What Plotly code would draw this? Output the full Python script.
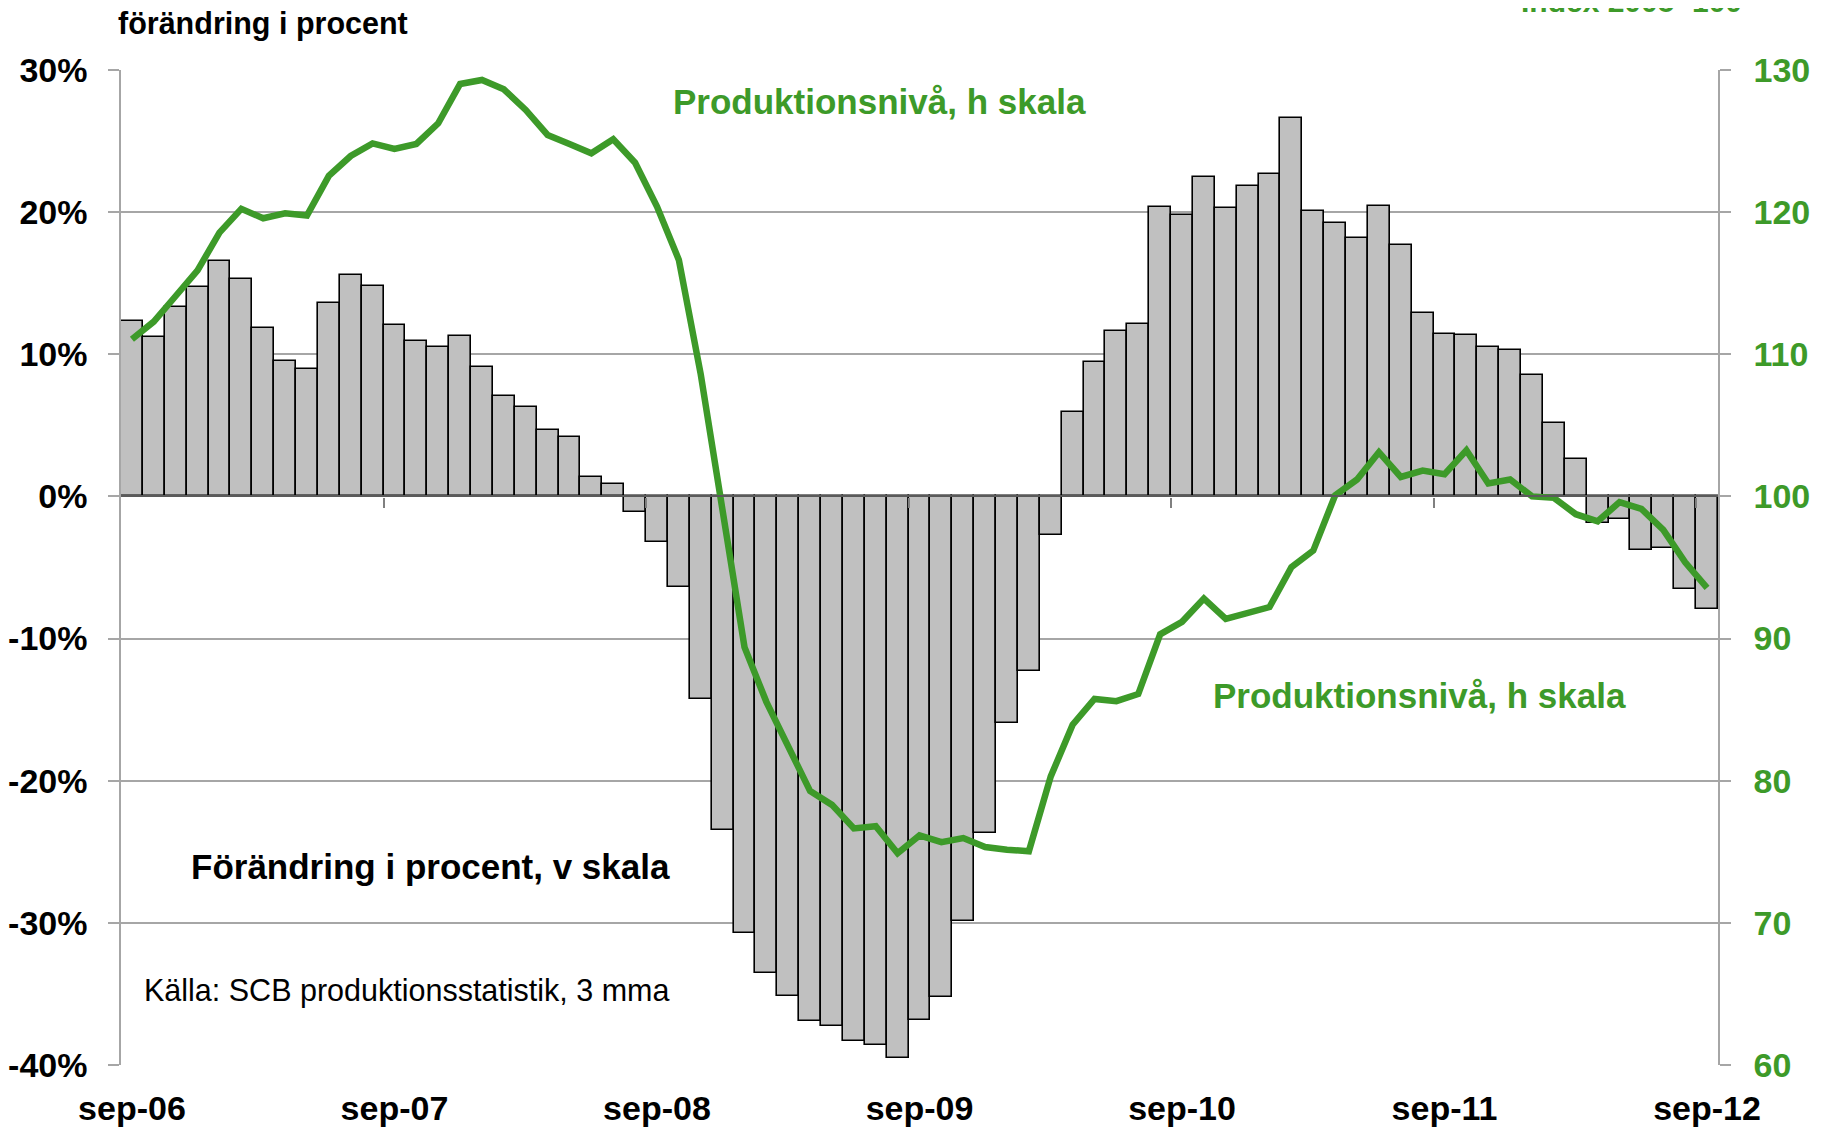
import plotly.graph_objects as go

# Monthly data sep-06 .. sep-12 (73 months)
change_pct = [12.35, 11.25, 13.3, 14.74, 16.55, 15.33, 11.88, 9.54, 8.95, 13.64, 15.56, 14.83,
              12.09, 10.97, 10.5, 11.32, 9.09, 7.08, 6.3, 4.69, 4.15, 1.34, 0.89, -1.1,
              -3.2, -6.36, -14.28, -23.47, -30.74, -33.55, -35.18, -36.88, -37.23, -38.3, -38.6, -39.5,
              -36.8, -35.24, -29.87, -23.7, -15.97, -12.29, -2.72, 5.97, 9.47, 11.67, 12.11, 20.36,
              19.77, 22.49, 20.29, 21.87, 22.65, 26.61, 20.08, 19.27, 18.16, 20.44, 17.72, 12.94,
              11.41, 11.34, 10.51, 10.3, 8.51, 5.2, 2.63, -1.86, -1.57, -3.79, -3.66, -6.48,
              -7.95]
prod_level = [111.06, 112.3, 114.1, 115.9, 118.56, 120.23, 119.57, 119.92, 119.76, 122.55, 123.95, 124.84,
              124.45, 124.8, 126.25, 129.02, 129.3, 128.64, 127.19, 125.43, 124.8, 124.14, 125.13, 123.48,
              120.39, 116.64, 108.6, 99.0, 89.4, 85.55, 82.3, 79.27, 78.3, 76.64, 76.8, 74.9,
              76.15, 75.68, 75.97, 75.33, 75.15, 75.04, 80.3, 83.94, 85.75, 85.6, 86.1, 90.3,
              91.18, 92.81, 91.39, 91.78, 92.22, 95.02, 96.19, 100.08, 101.19, 103.11, 101.37, 101.82,
              101.56, 103.24, 100.91, 101.19, 100.0, 99.9, 98.75, 98.25, 99.6, 99.12, 97.65, 95.36,
              93.56]

x_tick_labels = ["sep-06", "sep-07", "sep-08", "sep-09", "sep-10", "sep-11", "sep-12"]
left_tick_vals = [30, 20, 10, 0, -10, -20, -30, -40]
left_tick_text = ["30%", "20%", "10%", "0%", "-10%", "-20%", "-30%", "-40%"]
right_tick_vals = [130, 120, 110, 100, 90, 80, 70, 60]

GREEN = "#3d9a29"
FONT = "Liberation Sans, Arial, sans-serif"

n = len(change_pct)
xs = list(range(n))
label_pos = [i * 12 for i in range(len(x_tick_labels))]
boundary_pos = [i * 12 - 0.5 for i in range(1, len(x_tick_labels))]

fig = go.Figure()
fig.add_trace(go.Bar(x=xs, y=change_pct, marker=dict(color="#c0c0c0", line=dict(color="black", width=1.6)),
                     yaxis="y", xaxis="x", showlegend=False))
fig.add_trace(go.Scatter(x=xs, y=prod_level, mode="lines", line=dict(color=GREEN, width=6.5),
                         yaxis="y2", xaxis="x", showlegend=False))
fig.add_trace(go.Scatter(x=[None], y=[None], xaxis="x2", yaxis="y", showlegend=False, hoverinfo="skip"))

# page body has an 8px margin, so the figure is sized/offset to compensate
fig.update_layout(
    width=1814, height=1121,
    margin=dict(l=113, r=104, t=62, b=64, autoexpand=False),
    paper_bgcolor="white", plot_bgcolor="white",
    bargap=0,
    xaxis=dict(range=[-0.5, n - 0.5], tickvals=label_pos, ticktext=x_tick_labels, automargin=False,
               showgrid=False, zeroline=False, showline=False, ticks="",
               ticklabelstandoff=20,
               tickfont=dict(family=FONT, size=34, color="black", weight="bold")),
    xaxis2=dict(range=[-0.5, n - 0.5], overlaying="x", anchor="free", position=4 / 7, automargin=False,
                tickvals=boundary_pos, showticklabels=False, ticks="outside", ticklen=10,
                tickcolor="#808080", tickwidth=1.5,
                showline=True, linecolor="#5a5a5a", linewidth=2.2, showgrid=False, zeroline=False),
    yaxis=dict(range=[-40, 30], tickvals=left_tick_vals, ticktext=left_tick_text, automargin=False,
               showgrid=True, gridcolor="#a6a6a6", gridwidth=1.5, zeroline=False,
               showline=True, linecolor="#a6a6a6", linewidth=1.5,
               ticks="outside", ticklen=11, tickcolor="#a6a6a6", tickwidth=1.5,
               ticklabelstandoff=14,
               tickfont=dict(family=FONT, size=34, color="black", weight="bold")),
    yaxis2=dict(range=[60, 130], tickvals=right_tick_vals, overlaying="y", side="right", automargin=False,
                showgrid=False, zeroline=False,
                showline=True, linecolor="#a6a6a6", linewidth=1.5,
                ticks="outside", ticklen=11, tickcolor="#a6a6a6", tickwidth=1.5,
                ticklabelstandoff=16,
                tickfont=dict(family=FONT, size=34, color=GREEN, weight="bold")),
)

ann = [
    dict(text="förändring i procent", x=-0.003, y=1.047, xanchor="left", yanchor="middle",
         font=dict(family=FONT, size=30.5, color="black", weight="bold")),
    dict(text="Index 2005=100", x=1.016, y=1.069, xanchor="right", yanchor="middle",
         font=dict(family=FONT, size=30, color=GREEN, weight="bold")),
    dict(text="Produktionsnivå, h skala", x=0.475, y=0.968, xanchor="center", yanchor="middle",
         font=dict(family=FONT, size=35, color=GREEN, weight="bold")),
    dict(text="Produktionsnivå, h skala", x=0.813, y=0.371, xanchor="center", yanchor="middle",
         font=dict(family=FONT, size=35, color=GREEN, weight="bold")),
    dict(text="Förändring i procent, v skala", x=0.1935, y=0.2, xanchor="center", yanchor="middle",
         font=dict(family=FONT, size=35, color="black", weight="bold")),
    dict(text="Källa: SCB produktionsstatistik, 3 mma", x=0.0131, y=0.0744, xanchor="left", yanchor="middle",
         font=dict(family=FONT, size=30.5, color="black")),
]
for a in ann:
    fig.add_annotation(xref="paper", yref="paper", showarrow=False, **a)

fig.write_html("out.html")
